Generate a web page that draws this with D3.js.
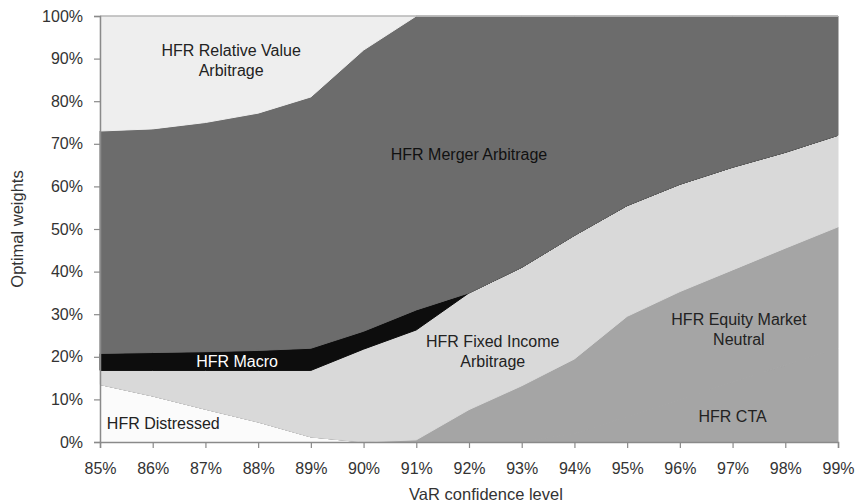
<!DOCTYPE html>
<html>
<head>
<meta charset="utf-8">
<script src="https://cdn.jsdelivr.net/npm/d3@7"></script>
<style>
  html, body { margin: 0; padding: 0; background: #fff; }
  svg { display: block; font-family: "Liberation Sans", Arial, sans-serif; }
</style>
</head>
<body>
<svg id="chart" width="858" height="504"></svg>
<script>
// VaR confidence level (%)
const confidence = [85, 86, 87, 88, 89, 90, 91, 92, 93, 94, 95, 96, 97, 98, 99];

// Optimal weights (%), stacked bottom to top
const distressed   = [13.5, 10.8, 7.7, 4.7, 1.2, 0, 0, 0, 0, 0, 0, 0, 0, 0, 0];
const cta          = [0, 0, 0, 0, 0, 0, 0, 0, 0, 2, 6, 10, 14, 18, 22];
const equityNeutral= [0, 0, 0, 0, 0, 0, 0.5, 7.6, 13.2, 17.5, 23.5, 25.3, 26.4, 27.5, 28.5];
const fixedIncome  = [3.3, 6.0, 9.1, 12.1, 15.6, 21.8, 25.8, 27.4, 27.8, 29, 26, 25.2, 24.1, 22.5, 21.5];
const macro        = [4.0, 4.2, 4.4, 4.7, 5.2, 4.2, 4.7, 0, 0, 0, 0, 0, 0, 0, 0];
const merger       = [52.2, 52.5, 53.8, 55.7, 59.0, 66.0, 69.0, 65.0, 59.0, 51.5, 44.5, 39.5, 35.5, 32.0, 28.0];
const relativeValue= [27.0, 26.5, 25.0, 22.8, 19.0, 8.0, 0, 0, 0, 0, 0, 0, 0, 0, 0];

const seriesNames = ["HFR Distressed", "HFR CTA", "HFR Equity Market Neutral", "HFR Fixed Income Arbitrage",
                     "HFR Macro", "HFR Merger Arbitrage", "HFR Relative Value Arbitrage"];
const seriesValues = [distressed, cta, equityNeutral, fixedIncome, macro, merger, relativeValue];
const seriesColors = ["#fbfbfb", "#a5a5a5", "#a5a5a5", "#d9d9d9", "#0d0d0d", "#6c6c6c", "#eeeeee"];

const yTicks = [0, 10, 20, 30, 40, 50, 60, 70, 80, 90, 100];
const xTicks = confidence;

// Area labels
const areaLabels = [
  { lines: ["HFR Relative Value", "Arbitrage"], cx: 87.488, cy: 90.7, anchor: "middle", color: "#222" },
  { lines: ["HFR Merger Arbitrage"], cx: 92.0, cy: 66.3, anchor: "middle", color: "#111" },
  { lines: ["HFR Macro"], cx: 87.6, cy: 17.6, anchor: "middle", color: "#fff" },
  { lines: ["HFR Distressed"], cx: 85.13, cy: 3.0, anchor: "start", color: "#222" },
  { lines: ["HFR Fixed Income", "Arbitrage"], cx: 92.45, cy: 22.2, anchor: "middle", color: "#222" },
  { lines: ["HFR Equity Market", "Neutral"], cx: 97.12, cy: 27.4, anchor: "middle", color: "#222" },
  { lines: ["HFR CTA"], cx: 97.0, cy: 4.6, anchor: "middle", color: "#222" }
];

const svg = d3.select("#chart");

const x = d3.scaleLinear().domain([85, 99]).range([100, 838]);
const y = d3.scaleLinear().domain([0, 100]).range([442, 16]);

const table = confidence.map((c, i) => {
  const row = { conf: c };
  seriesNames.forEach((n, k) => row[n] = seriesValues[k][i]);
  return row;
});

const layers = d3.stack().keys(seriesNames)(table);

const area = d3.area()
  .x(d => x(d.data.conf))
  .y0(d => y(d[0]))
  .y1(d => y(d[1]))
  .curve(d3.curveLinear);

svg.append("g").selectAll("path")
  .data(layers)
  .join("path")
  .attr("d", area)
  .attr("fill", (d, i) => seriesColors[i])
  .attr("stroke", (d, i) => seriesColors[i])
  .attr("stroke-width", 1);

// top border line
svg.append("line")
  .attr("x1", x(85)).attr("x2", x(99))
  .attr("y1", y(100)).attr("y2", y(100))
  .attr("stroke", "#9a9a9a").attr("stroke-width", 1.2);

// axes
const yAxis = d3.axisLeft(y).tickValues(yTicks).tickSize(6).tickPadding(11)
  .tickFormat(d => d + "%");
const gy = svg.append("g").attr("transform", `translate(${x(85)},0)`).call(yAxis);
gy.select(".domain").attr("stroke", "#8a8a8a").attr("stroke-width", 1.5);
gy.selectAll(".tick line").attr("stroke", "#8a8a8a").attr("stroke-width", 1.2);
gy.selectAll(".tick text").attr("font-size", 16).attr("fill", "#333")
  .attr("font-family", "Liberation Sans, Arial, sans-serif");

const xAxis = d3.axisBottom(x).tickValues(xTicks).tickSize(6).tickPadding(15)
  .tickFormat(d => d + "%");
const gx = svg.append("g").attr("transform", `translate(0,${y(0)})`).call(xAxis);
gx.select(".domain").attr("stroke", "#8a8a8a").attr("stroke-width", 1.5);
gx.selectAll(".tick line").attr("stroke", "#8a8a8a").attr("stroke-width", 1.2);
gx.selectAll(".tick text").attr("font-size", 16).attr("fill", "#333")
  .attr("font-family", "Liberation Sans, Arial, sans-serif");

// axis titles
svg.append("text")
  .attr("x", 486).attr("y", 500)
  .attr("text-anchor", "middle")
  .attr("font-size", 16.5).attr("fill", "#333")
  .text("VaR confidence level");

svg.append("text")
  .attr("transform", `translate(23,${(y(0) + y(100)) / 2}) rotate(-90)`)
  .attr("text-anchor", "middle")
  .attr("font-size", 16.5).attr("fill", "#333")
  .text("Optimal weights");

// area labels
const lg = svg.append("g");
areaLabels.forEach(l => {
  const t = lg.append("text")
    .attr("text-anchor", l.anchor)
    .attr("font-size", 16)
    .attr("fill", l.color);
  l.lines.forEach((line, i) => {
    t.append("tspan")
      .attr("x", x(l.cx))
      .attr("y", y(l.cy) + i * 20)
      .text(line);
  });
});
</script>
</body>
</html>
